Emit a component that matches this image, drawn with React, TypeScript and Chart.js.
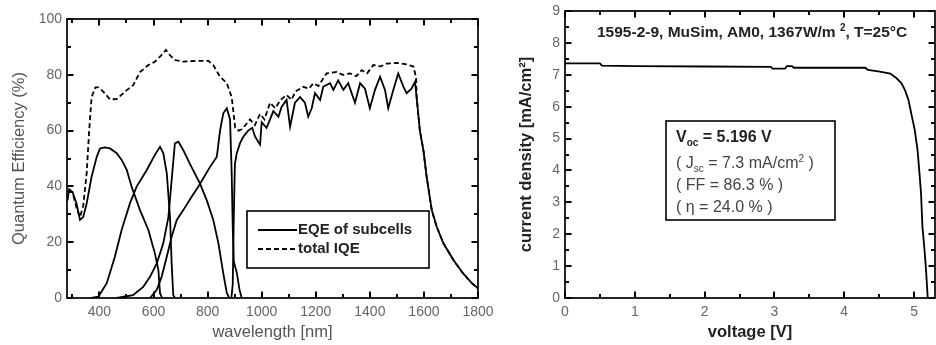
import { useEffect, useRef } from 'react';
import { Chart, registerables } from 'chart.js';

Chart.register(...registerables);

const FONT = '"Liberation Sans", Arial, Helvetica, sans-serif';

// ---------------- Left chart: quantum efficiency ----------------
const qeXTicks = [400, 600, 800, 1000, 1200, 1400, 1600, 1800];
const qeXMinor = [300, 500, 700, 900, 1100, 1300, 1500, 1700];
const qeYTicks = [0, 20, 40, 60, 80, 100];
const qeYMinor = [10, 30, 50, 70, 90];

const eqeLabel = 'EQE of subcells';
const iqeLabel = 'total IQE';

// subcell 1
const cell1Wl = [282, 288, 300, 315, 328, 340, 353, 371, 390, 402, 420, 439, 464, 482, 501, 519, 550, 581, 605, 618, 624, 632];
const cell1Qe = [35, 39, 38, 34, 28, 29, 34, 43.5, 50.6, 53.6, 54, 53.6, 51.9, 49.5, 45.9, 39.9, 31.5, 24.4, 16, 10, 1.7, 0];
// subcell 2
const cell2Wl = [370, 396, 427, 457, 482, 513, 538, 575, 605, 624, 636, 649, 661, 667, 673, 680];
const cell2Qe = [0, 0.5, 5.3, 14.8, 24.4, 34, 40, 45.9, 51.3, 54.2, 52, 44.7, 29, 12.4, 1, 0];
// subcell 3
const cell3Wl = [464, 524, 562, 587, 612, 636, 655, 667, 679, 692, 710, 735, 772, 797, 821, 840, 858, 871, 880];
const cell3Qe = [0, 1, 4, 7.6, 12.4, 19.6, 29, 42.3, 55.4, 56, 53, 48, 41, 35, 28, 19.6, 8.8, 1.8, 0];
// subcell 4
const cell4Wl = [587, 612, 630, 649, 667, 686, 710, 741, 766, 809, 834, 846, 858, 871, 883, 889, 893, 897, 908, 918, 926];
const cell4Qe = [0, 2.9, 7.6, 14.8, 22, 28, 31.5, 36.3, 40, 47, 50.6, 60, 66.2, 68, 64, 45, 25, 13, 9, 3, 0];
// subcell 5
const cell5Wl = [888, 893, 897, 901, 908, 920, 932, 950, 965, 975, 987, 994, 1000, 1018, 1031, 1043, 1062, 1074, 1092, 1105, 1123, 1142, 1160, 1172, 1185, 1197, 1216, 1228, 1253, 1265, 1283, 1302, 1320, 1345, 1364, 1382, 1400, 1419, 1438, 1456, 1468, 1487, 1505, 1524, 1536, 1554, 1567];
const cell5Qe = [0, 5, 30, 48, 52, 55.5, 57.8, 60, 61, 58, 56, 55, 63, 61, 64, 67, 65, 68.6, 71, 61.4, 70, 72, 70, 65, 68, 73.4, 71, 75.8, 77, 74.6, 78, 74.6, 77, 70, 77, 75, 68, 74.6, 79.3, 74.6, 68, 74.6, 80.5, 75.8, 73.4, 75, 77.5];
// total IQE
const iqeWl = [285, 300, 316, 328, 340, 353, 362, 371, 385, 396, 414, 439, 464, 501, 525, 550, 581, 605, 624, 646, 661, 679, 710, 760, 803, 821, 846, 871, 889, 895, 902, 915, 926, 940, 957, 975, 994, 1010, 1031, 1050, 1070, 1092, 1110, 1125, 1154, 1175, 1191, 1210, 1240, 1277, 1300, 1327, 1350, 1370, 1390, 1413, 1440, 1462, 1499, 1536, 1561, 1571];
const iqeQe = [38, 38, 32, 29, 33, 45, 60, 72, 75.5, 75.5, 74, 71.2, 71.3, 74.5, 76.3, 81, 83.5, 84.7, 86.5, 88.9, 87, 85.3, 84.7, 85, 85, 83.5, 79.3, 77, 72, 67, 61, 60, 60.5, 62, 64, 62, 66, 64, 70, 68, 71, 72.8, 71, 74, 75.7, 75, 77, 76, 80.5, 81, 80, 80.5, 79.5, 81.7, 80.5, 83.5, 83, 84, 84.3, 83.7, 83, 79];
// common fall-off above the bottom-cell band edge
const tailWl = [1573, 1585, 1598, 1610, 1629, 1647, 1672, 1709, 1745, 1777, 1800];
const tailQe = [72, 60, 53, 43.5, 31.5, 25.6, 19.6, 13.6, 8.8, 5.3, 3.5];

// ---------------- Right chart: J-V curve ----------------
const jvXTicks = [0, 1, 2, 3, 4, 5];
const jvXMinor = [0.5, 1.5, 2.5, 3.5, 4.5];
const jvYTicks = [0, 1, 2, 3, 4, 5, 6, 7, 8, 9];
const jvYMinor = [0.5, 1.5, 2.5, 3.5, 4.5, 5.5, 6.5, 7.5, 8.5];

const voltage = [0, 0.5, 0.53, 1.0, 2.0, 2.95, 2.97, 3.15, 3.18, 3.25, 3.28, 4.0, 4.3, 4.34, 4.51, 4.66, 4.75, 4.82, 4.87, 4.92, 4.97, 5.01, 5.05, 5.07, 5.1, 5.12, 5.15, 5.17, 5.196];
const currentDensity = [7.36, 7.36, 7.29, 7.27, 7.26, 7.25, 7.19, 7.19, 7.27, 7.27, 7.22, 7.22, 7.22, 7.15, 7.1, 7.04, 6.89, 6.73, 6.52, 6.21, 5.68, 5.27, 4.64, 4.12, 3.28, 2.24, 1.5, 0.93, 0];

const pts = (xs: number[], ys: number[]) => xs.map((x, i) => ({ x, y: ys[i] }));

// box frame with inward ticks on all four sides
function makeFrame(id: string, xMajor: number[], xMinor: number[], yMajor: number[], yMinor: number[]) {
  return {
    id,
    afterDraw(chart: any) {
      const { ctx, chartArea: a } = chart;
      const sx = chart.scales.x;
      const sy = chart.scales.y;
      ctx.save();
      ctx.strokeStyle = '#000';
      ctx.setLineDash([]);
      ctx.lineWidth = 1.7;
      ctx.strokeRect(a.left, a.top, a.right - a.left, a.bottom - a.top);
      ctx.lineWidth = 2;
      ctx.beginPath();
      const addX = (vals: number[], len: number) => {
        for (const v of vals) {
          const p = Math.round(sx.getPixelForValue(v));
          ctx.moveTo(p, a.bottom);
          ctx.lineTo(p, a.bottom - len);
          ctx.moveTo(p, a.top);
          ctx.lineTo(p, a.top + len);
        }
      };
      const addY = (vals: number[], len: number) => {
        for (const v of vals) {
          const p = Math.round(sy.getPixelForValue(v));
          ctx.moveTo(a.left, p);
          ctx.lineTo(a.left + len, p);
          ctx.moveTo(a.right, p);
          ctx.lineTo(a.right - len, p);
        }
      };
      addX(xMajor, 6.5);
      addX(xMinor, 4);
      addY(yMajor, 6.5);
      addY(yMinor, 4);
      ctx.stroke();
      ctx.restore();
    },
  };
}

// draws a sequence of text runs with sub/superscripts
function runs(ctx: CanvasRenderingContext2D, x: number, y: number, parts: { t: string; f: string; dy?: number }[]) {
  let cx = x;
  for (const p of parts) {
    ctx.font = p.f;
    ctx.fillText(p.t, cx, y + (p.dy || 0));
    cx += ctx.measureText(p.t).width;
  }
}

function axisCfg(min: number, max: number, ticks: number[], titleText: string, horizontal: boolean, size: number, titlePad: any, titleColor: string, titleWeight: string) {
  return {
    type: 'linear' as const,
    min,
    max,
    afterBuildTicks: (s: any) => {
      s.ticks = ticks.map((v) => ({ value: v }));
    },
    afterFit: (s: any) => {
      if (horizontal) {
        s.height = 47;
        s.paddingLeft = 0;
        s.paddingRight = 0;
      } else {
        s.width = size;
        s.paddingTop = 0;
        s.paddingBottom = 0;
      }
    },
    grid: { display: false, drawTicks: false },
    border: { display: false },
    ticks: {
      autoSkip: false,
      maxRotation: 0,
      padding: horizontal ? 6 : 5,
      color: '#666',
      font: { family: FONT, size: 14 },
      callback: (v: any) => String(v),
    },
    title: {
      display: true,
      text: titleText,
      color: titleColor,
      font: { family: FONT, size: 16.5, weight: titleWeight },
      padding: titlePad,
    },
  };
}

function QEChart() {
  const ref = useRef<HTMLCanvasElement>(null);
  useEffect(() => {
    const line = (wl: number[], qe: number[], label: string, dashed: boolean) => ({
      label,
      data: pts(wl, qe),
      borderColor: '#000',
      borderWidth: 1.8,
      borderDash: dashed ? [5, 3] : [],
      pointRadius: 0,
      tension: 0,
      fill: false,
    });
    const notes = {
      id: 'qeNotes',
      afterDraw(chart: any) {
        const { ctx, chartArea: a } = chart;
        const bx = a.left + 180, by = a.top + 192, bw = 182, bh = 57;
        ctx.save();
        ctx.fillStyle = '#fff';
        ctx.fillRect(bx, by, bw, bh);
        ctx.strokeStyle = '#000';
        ctx.lineWidth = 1.6;
        ctx.strokeRect(bx, by, bw, bh);
        ctx.lineWidth = 1.8;
        ctx.beginPath();
        ctx.moveTo(bx + 11, by + 19);
        ctx.lineTo(bx + 50, by + 19);
        ctx.stroke();
        ctx.setLineDash([5, 3]);
        ctx.beginPath();
        ctx.moveTo(bx + 11, by + 38);
        ctx.lineTo(bx + 50, by + 38);
        ctx.stroke();
        ctx.setLineDash([]);
        ctx.fillStyle = '#222';
        ctx.textBaseline = 'middle';
        ctx.font = `bold 15px ${FONT}`;
        ctx.fillText(eqeLabel, bx + 51, by + 19);
        ctx.fillText(iqeLabel, bx + 51, by + 38);
        ctx.restore();
      },
    };
    const chart = new Chart(ref.current!, {
      type: 'line',
      data: {
        datasets: [
          line(cell1Wl, cell1Qe, eqeLabel, false),
          line(cell2Wl, cell2Qe, eqeLabel, false),
          line(cell3Wl, cell3Qe, eqeLabel, false),
          line(cell4Wl, cell4Qe, eqeLabel, false),
          line([...cell5Wl, ...tailWl], [...cell5Qe, ...tailQe], eqeLabel, false),
          line([...iqeWl, ...tailWl], [...iqeQe, ...tailQe], iqeLabel, true),
        ],
      },
      options: {
        responsive: false,
        animation: false,
        layout: { padding: { left: 0, top: 19, right: 22, bottom: 0 } },
        plugins: {
          legend: { display: false },
          tooltip: { enabled: false },
        },
        scales: {
          x: axisCfg(280, 1800, qeXTicks, 'wavelength [nm]', true, 47, { top: 0, bottom: 3 }, '#555', 'normal'),
          y: axisCfg(0, 100, qeYTicks, 'Quantum Efficiency (%)', false, 67, { top: 10, bottom: 0 }, '#555', 'normal'),
        } as any,
      },
      plugins: [makeFrame('qeFrame', qeXTicks, qeXMinor, qeYTicks, qeYMinor), notes],
    });
    return () => chart.destroy();
  }, []);
  return <canvas ref={ref} width={500} height={345} style={{ position: 'absolute', left: 0, top: 0, width: 500, height: 345 }} />;
}

function JVChart() {
  const ref = useRef<HTMLCanvasElement>(null);
  useEffect(() => {
    const notes = {
      id: 'jvNotes',
      afterDraw(chart: any) {
        const { ctx, chartArea: a } = chart;
        ctx.save();
        ctx.fillStyle = '#222';
        ctx.textBaseline = 'middle';
        const T = `bold 15.5px ${FONT}`;
        const Ts = `bold 10px ${FONT}`;
        runs(ctx, a.left + 32, a.top + 22, [
          { t: '1595-2-9, MuSim, AM0, 1367W/m ', f: T },
          { t: '2', f: Ts, dy: -5 },
          { t: ', T=25°C', f: T },
        ]);
        const bx = a.left + 101, by = a.top + 110, bw = 169, bh = 99;
        ctx.strokeStyle = '#000';
        ctx.lineWidth = 1.6;
        ctx.strokeRect(bx, by, bw, bh);
        const B = `bold 16px ${FONT}`;
        const Bs = `bold 10px ${FONT}`;
        const N = `16px ${FONT}`;
        const Ns = `10px ${FONT}`;
        const tx = bx + 10;
        runs(ctx, tx, by + 17, [
          { t: 'V', f: B },
          { t: 'oc', f: Bs, dy: 5 },
          { t: ' = 5.196 V', f: B },
        ]);
        ctx.fillStyle = '#444';
        runs(ctx, tx, by + 43, [
          { t: '( J', f: N },
          { t: 'sc', f: Ns, dy: 5 },
          { t: ' = 7.3 mA/cm', f: N },
          { t: '2', f: Ns, dy: -5 },
          { t: ' )', f: N },
        ]);
        runs(ctx, tx, by + 65, [{ t: '( FF = 86.3 % )', f: N }]);
        runs(ctx, tx, by + 87, [{ t: '( η = 24.0 % )', f: N }]);
        ctx.restore();
      },
    };
    const chart = new Chart(ref.current!, {
      type: 'line',
      data: {
        datasets: [
          {
            label: 'J-V',
            data: pts(voltage, currentDensity),
            borderColor: '#000',
            borderWidth: 1.8,
            pointRadius: 0,
            tension: 0,
            fill: false,
          },
        ],
      },
      options: {
        responsive: false,
        animation: false,
        layout: { padding: { left: 0, top: 11, right: 1, bottom: 0 } },
        plugins: {
          legend: { display: false },
          tooltip: { enabled: false },
        },
        scales: {
          x: axisCfg(0, 5.3, jvXTicks, 'voltage [V]', true, 47, { top: 0, bottom: 3 }, '#222', 'bold'),
          y: axisCfg(0, 9, jvYTicks, 'current density [mA/cm²]', false, 80, { top: 32, bottom: 0 }, '#222', 'bold'),
        } as any,
      },
      plugins: [makeFrame('jvFrame', jvXTicks, jvXMinor, jvYTicks, jvYMinor), notes],
    });
    return () => chart.destroy();
  }, []);
  return <canvas ref={ref} width={451} height={345} style={{ position: 'absolute', left: 485, top: 0, width: 451, height: 345 }} />;
}

export default function App() {
  return (
    <div style={{ position: 'absolute', left: 0, top: 0, width: 936, height: 345, background: '#fff', overflow: 'hidden' }}>
      <QEChart />
      <JVChart />
    </div>
  );
}
